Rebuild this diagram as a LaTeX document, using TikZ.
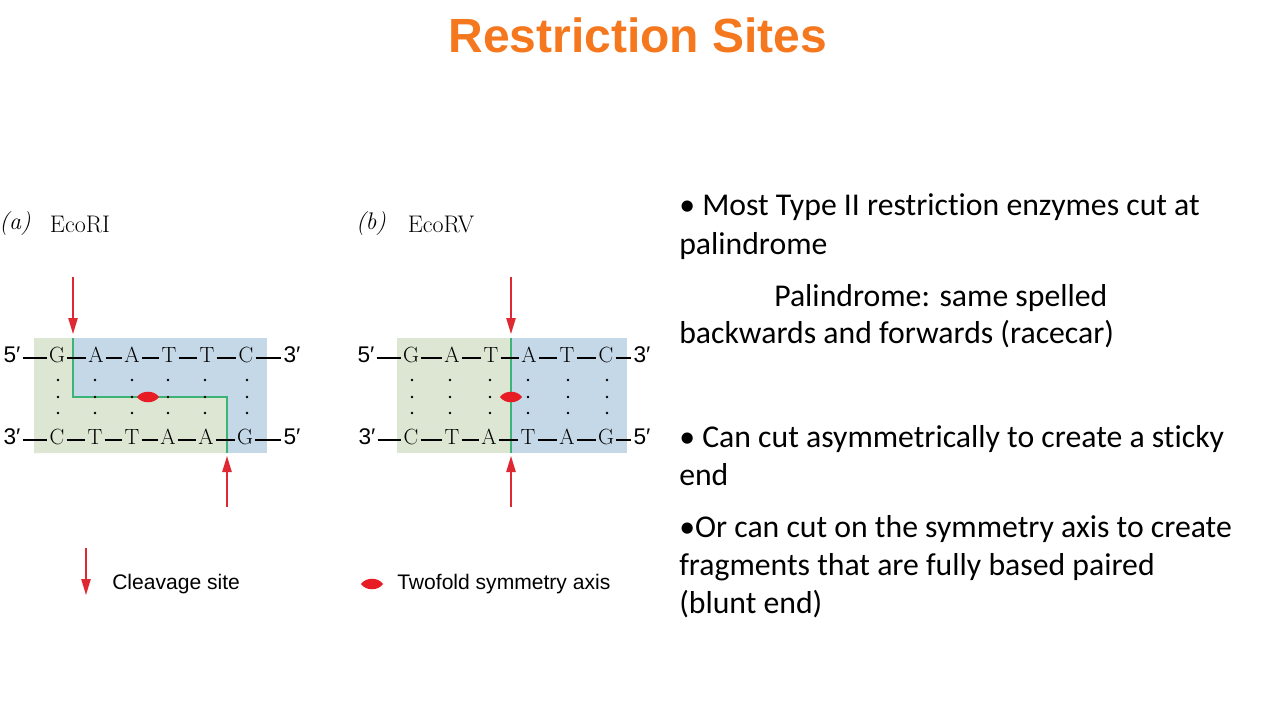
\documentclass[tikz,border=0pt]{standalone}
\usepackage{fontspec}
\newfontfamily\titlefont{Liberation Sans}
\newfontfamily\bodyfont{Carlito}[Ligatures={NoCommon}]
\newfontfamily\legfont{Liberation Sans}
\newfontfamily\primefont{Liberation Sans}
\usetikzlibrary{arrows.meta}
\definecolor{ttl}{RGB}{245,120,30}
\definecolor{gfill}{RGB}{221,230,210}
\definecolor{bfill}{RGB}{196,216,232}
\definecolor{gline}{RGB}{60,180,120}
\definecolor{cut}{RGB}{222,40,50}
\definecolor{axisred}{RGB}{232,28,36}
\tikzset{
  nuc/.style={font=\fontsize{16.5}{19}\selectfont, inner sep=1.5pt, text height=1.58ex, text depth=0pt},
  bond/.style={line width=0.85pt},
  hb/.style={fill=black},
  cutarrow/.style={draw=cut, line width=1.1pt, -{Triangle[length=12pt,width=7pt]}},
  greenline/.style={draw=gline, line width=1.1pt},
  body/.style={font=\bodyfont\fontsize{23.8}{28}\selectfont, anchor=base west, inner sep=0pt},
  enz/.style={font=\fontsize{18}{21}\selectfont, inner sep=0pt},
  leg/.style={font=\legfont\fontsize{15.8}{19}\selectfont, anchor=west, inner sep=0pt},
}
\newcommand{\pr}[1]{{\primefont\fontsize{17}{19}\selectfont #1′}}
\newcommand{\lens}[3]{\fill[axisred] (#1,#2) ++(-#3,0) to[out=55,in=125] ++(2*#3,0) to[out=-125,in=-55] ++(-2*#3,0) -- cycle;}
\begin{document}
\begin{tikzpicture}[x=0.75pt,y=-0.75pt]
\useasboundingbox (0,0) rectangle (1280,720);
\fill[white] (0,0) rectangle (1280,720);
% title
\node[font=\titlefont\bfseries\fontsize{36}{40}\selectfont, text=ttl] (title) at (638,35) {Restriction Sites};

% ---------- (a) EcoRI ----------
\node[enz] (alab) at (15,224) {\textit{(a)}};
\node[enz] (aname) at (80,224) {EcoRI};
\fill[bfill] (34,338) rectangle (267,453);
\fill[gfill] (34,338) -- (73,338) -- (73,397) -- (227,397) -- (227,453) -- (34,453) -- cycle;
\draw[greenline] (73,338) -- (73,397) -- (227,397) -- (227,453);
\foreach \x in {58,95,132,168,205,247}{
  \foreach \y in {380,397,413}{\fill[hb] (\x,\y) circle (1.3);}
}
\foreach \x/\t [count=\i] in {12/{\pr{5}},57/G,96/A,132/A,169/T,207/T,246/C,292/{\pr{3}}}
  {\node[nuc] (aT\i) at (\x,358) {\t};}
\foreach \x/\t [count=\i] in {12/{\pr{3}},57/C,95/T,132/T,168/A,206/A,245/G,292/{\pr{5}}}
  {\node[nuc] (aB\i) at (\x,440) {\t};}
\foreach \i [evaluate=\i as \j using int(\i+1)] in {1,...,7}{
  \draw[bond] (aT\i.east) -- (aT\j.west);
  \draw[bond] (aB\i.east) -- (aB\j.west);
}
\lens{148}{397}{11}
\coordinate (aTs) at (73,277);
\coordinate (aTe) at (73,334);
\coordinate (aBs) at (227,507);
\coordinate (aBe) at (227,456);
\draw[cutarrow] (aTs) -- (aTe);
\draw[cutarrow] (aBs) -- (aBe);

% ---------- (b) EcoRV ----------
\node[enz] (blab) at (371,224) {\textit{(b)}};
\node[enz] (bname) at (441,224) {EcoRV};
\fill[bfill] (397,338) rectangle (627,453);
\fill[gfill] (397,338) rectangle (511,453);
\draw[greenline] (511,338) -- (511,453);
\foreach \x in {412,450,490,528,568,607}{
  \foreach \y in {380,397,413}{\fill[hb] (\x,\y) circle (1.3);}
}
\foreach \x/\t [count=\i] in {366/{\pr{5}},411/G,452/A,491/T,529/A,567/T,606/C,642/{\pr{3}}}
  {\node[nuc] (bT\i) at (\x,358) {\t};}
\foreach \x/\t [count=\i] in {367/{\pr{3}},411/C,452/T,489/A,528/T,567/A,606/G,642/{\pr{5}}}
  {\node[nuc] (bB\i) at (\x,440) {\t};}
\foreach \i [evaluate=\i as \j using int(\i+1)] in {1,...,7}{
  \draw[bond] (bT\i.east) -- (bT\j.west);
  \draw[bond] (bB\i.east) -- (bB\j.west);
}
\lens{511}{397}{11}
\coordinate (bTs) at (511,277);
\coordinate (bTe) at (511,334);
\coordinate (bBs) at (511,507);
\coordinate (bBe) at (511,456);
\draw[cutarrow] (bTs) -- (bTe);
\draw[cutarrow] (bBs) -- (bBe);

% ---------- legend ----------
\coordinate (lgs) at (86,548);
\coordinate (lge) at (86,595);
\draw[cutarrow] (lgs) -- (lge);
\node[leg] (lg1) at (112,584) {Cleavage site};
\lens{372}{584}{11}
\node[leg] (lg2) at (397,584) {Twofold symmetry axis};

% ---------- text ----------
\node[body] (t1) at (679,216) {\textbullet\ Most Type II restriction enzymes cut at};
\node[body] (t2) at (679,254) {palindrome};
\node[body] (t3) at (774,306) {Palindrome: same spelled};
\node[body] (t4) at (679,343) {backwards and forwards (racecar)};
\node[body] (t5) at (679,447) {\textbullet\ Can cut asymmetrically to create a sticky};
\node[body] (t6) at (679,485) {end};
\node[body] (t7) at (679,537) {\textbullet Or can cut on the symmetry axis to create};
\node[body] (t8) at (679,575) {fragments that are fully based paired};
\node[body] (t9) at (679,613) {(blunt end)};
\end{tikzpicture}
\end{document}
